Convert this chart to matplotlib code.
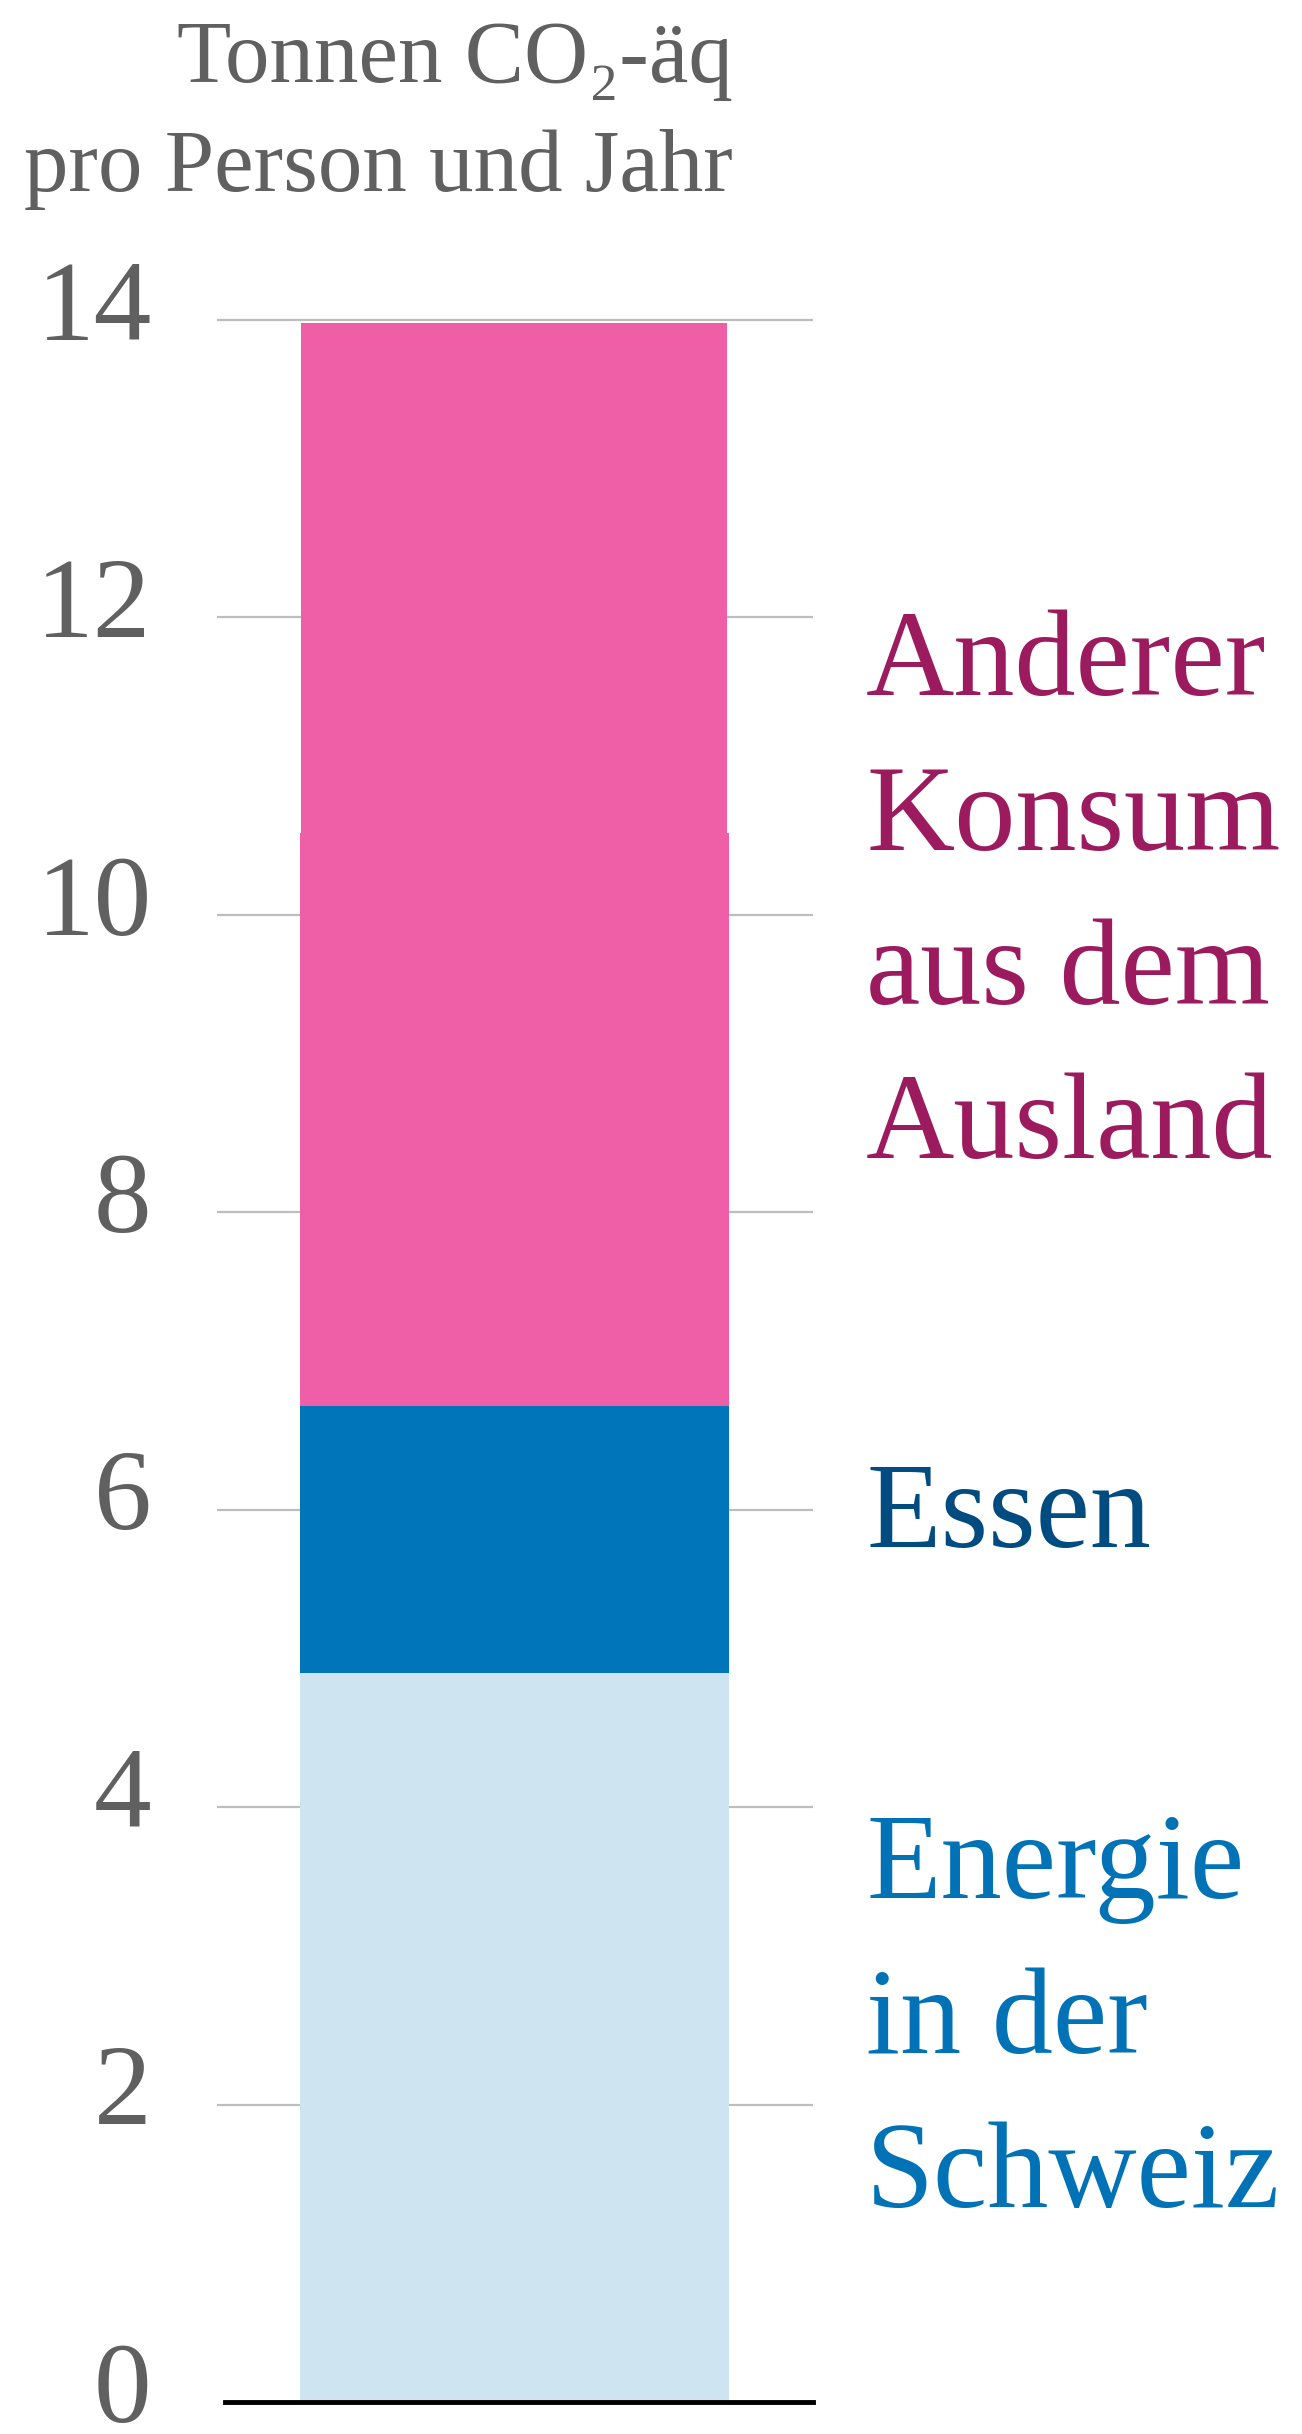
import matplotlib
matplotlib.use("Agg")
import matplotlib.pyplot as plt
from matplotlib.transforms import ScaledTranslation

# Daten (Tonnen CO2-äq pro Person und Jahr)
segments = ["Energie in der Schweiz", "Essen", "Anderer Konsum", "aus dem Ausland"]
values = [4.9, 1.8, 3.85, 3.43]
colors = ["#CFE4F1", "#0075BA", "#EF5FA7", "#EF5FA7"]
widths = [0.72, 0.72, 0.72, 0.715]

yticks = [0, 2, 4, 6, 8, 10, 12, 14]
ytick_labels = ["0", "2", "4", "6", "8", "10", "12", "14"]

labels = ["Anderer\nKonsum\naus dem\nAusland", "Essen", "Energie\nin der\nSchweiz"]
label_y = [10.12, 5.95, 2.55]
label_colors = ["#9C1B5E", "#004B7F", "#0072B5"]

title_lines = ["Tonnen CO\u2082-äq", "pro Person und Jahr"]

SERIF = ["Liberation Serif", "DejaVu Serif"]
GRAY = "#606060"

W, H = 1302, 2434
fig = plt.figure(figsize=(W / 100, H / 100), dpi=100)

# Achse in Pixelkoordinaten platzieren
px0, px1 = 217, 813
py0 = 2402              # y=0
ppu = (2402 - 320) / 14  # Pixel pro Einheit
ytop = 14.3
ax = fig.add_axes([px0 / W, (H - py0) / H, (px1 - px0) / W, ytop * ppu / H])
ax.set_xlim(0, 1)
ax.set_ylim(0, ytop)

# Gitterlinien
for t in yticks[1:]:
    ax.axhline(t, color="#BDBDBD", lw=1.6, zorder=0)

# gestapelter Balken
bottom = 0
for v, c, w in zip(values, colors, widths):
    ax.bar(0.499, v, width=w, bottom=bottom, color=c, linewidth=0, zorder=2)
    bottom += v

ax.axhline(0, xmin=(225 - px0) / (px1 - px0), xmax=1, color="black", lw=3.5,
           zorder=3, clip_on=False)

for s in ax.spines.values():
    s.set_visible(False)
ax.set_xticks([])
ax.set_yticks(yticks)
ax.set_yticklabels(ytick_labels, family=SERIF, fontsize=83, color=GRAY)
ax.tick_params(axis="y", length=0, pad=47)
shift = ScaledTranslation(0, 0.2, fig.dpi_scale_trans)
for lab in ax.get_yticklabels():
    lab.set_transform(lab.get_transform() + shift)

# Beschriftungen rechts
for txt, y, c in zip(labels, label_y, label_colors):
    ax.annotate(txt, xy=(1.089, y), xycoords=("axes fraction", "data"),
                ha="left", va="center", fontsize=88, color=c,
                family=SERIF, linespacing=1.5, annotation_clip=False)

# Einheit oben
fig.text(733 / W, 1 - 82 / H, title_lines[0], ha="right", va="baseline",
         fontsize=64, color=GRAY, family=SERIF)
fig.text(733 / W, 1 - 191 / H, title_lines[1], ha="right", va="baseline",
         fontsize=64, color=GRAY, family=SERIF)

fig.savefig("out.png", dpi=100)
